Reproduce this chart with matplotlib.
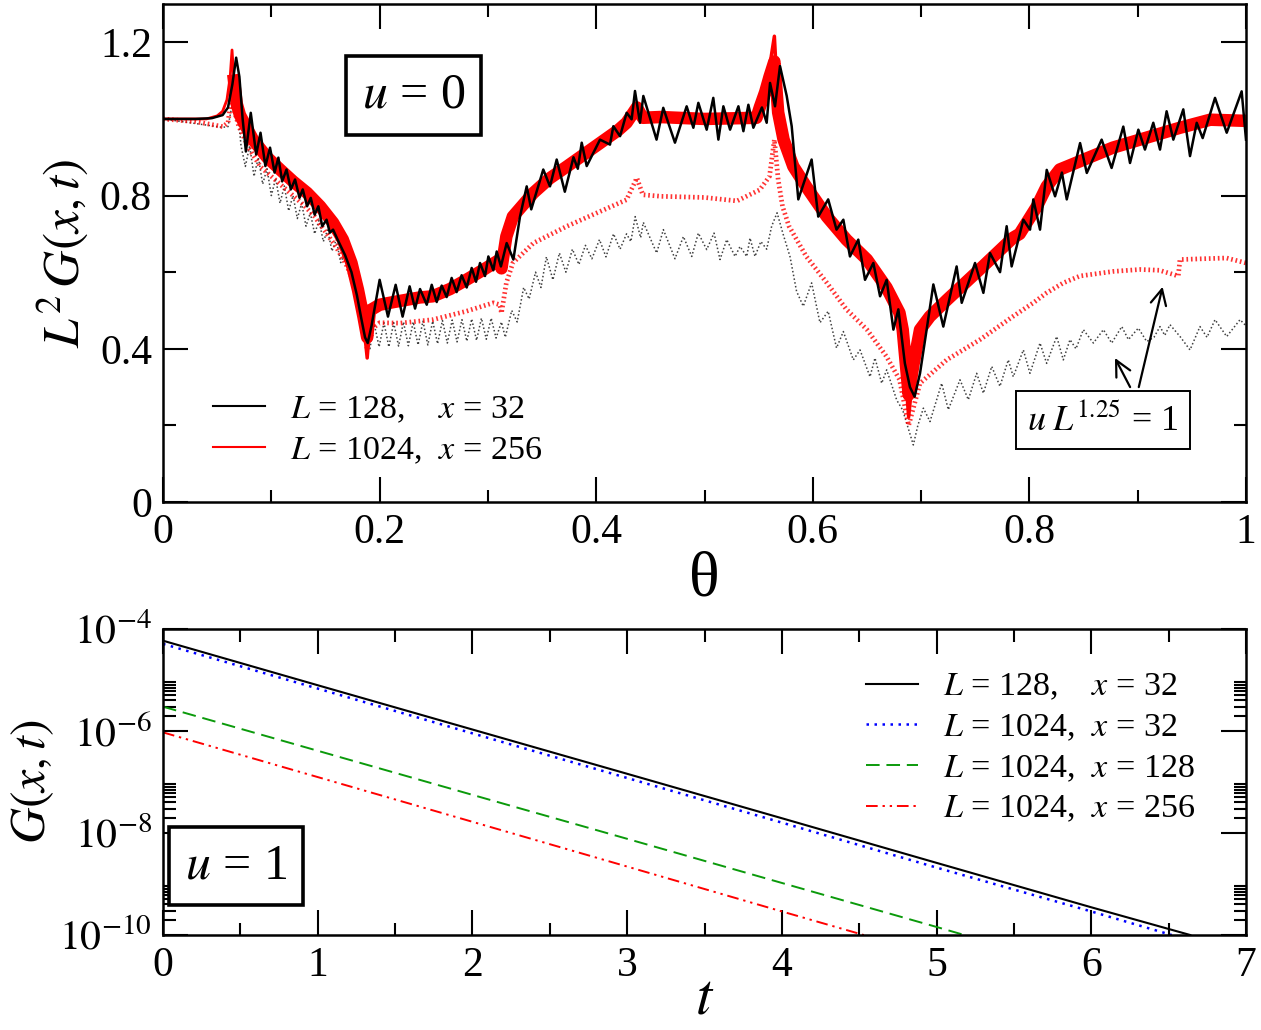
import matplotlib
matplotlib.use("Agg")
import matplotlib.pyplot as plt
from matplotlib.lines import Line2D
from matplotlib.ticker import MultipleLocator, FixedLocator, NullFormatter

plt.rcParams['font.family'] = 'serif'
plt.rcParams['font.serif'] = ['Liberation Serif', 'DejaVu Serif']
plt.rcParams['mathtext.fontset'] = 'stix'

# ---------------- top panel: u = 0 ----------------
# L = 1024, x = 256 (thin part before the first peak, then the noisy band)
red_pre_theta = [0.0, 0.04, 0.05, 0.055, 0.059, 0.062, 0.0637, 0.0655]
red_pre_g = [1.0, 1.0, 1.008, 1.02, 1.05, 1.11, 1.18, 1.10]

red_theta = [0.0655, 0.068, 0.071, 0.083, 0.096, 0.108, 0.120, 0.133, 0.145, 0.157,
             0.166, 0.174, 0.180, 0.185, 0.1885, 0.191, 0.200, 0.213, 0.237, 0.249,
             0.265, 0.280, 0.295, 0.311, 0.3125, 0.317, 0.323, 0.342, 0.357, 0.373,
             0.390, 0.404, 0.420, 0.428, 0.4375, 0.443, 0.459, 0.500, 0.548, 0.551,
             0.556, 0.560, 0.5645, 0.568, 0.573, 0.582, 0.594, 0.613, 0.631, 0.650,
             0.668, 0.680, 0.683, 0.6885, 0.693, 0.699, 0.708, 0.724, 0.754, 0.785,
             0.791, 0.807, 0.816, 0.828, 0.847, 0.877, 0.902, 0.939, 0.967, 1.0]
red_g = [1.10, 1.04, 1.01, 0.946, 0.90, 0.868, 0.837, 0.807, 0.772, 0.729,
         0.685, 0.624, 0.554, 0.484, 0.43, 0.50, 0.515, 0.522, 0.534, 0.537,
         0.556, 0.58, 0.605, 0.633, 0.61, 0.693, 0.745, 0.807, 0.845, 0.876,
         0.91, 0.938, 0.97, 0.99, 1.03, 1.003, 1.005, 1.0, 1.003, 1.03,
         1.07, 1.11, 1.15, 1.017, 0.946, 0.876, 0.823, 0.745, 0.685, 0.633,
         0.56, 0.494, 0.45, 0.28, 0.36, 0.45, 0.484, 0.528, 0.607, 0.69,
         0.70, 0.772, 0.824, 0.868, 0.89, 0.925, 0.946, 0.977, 0.998, 0.995]

# narrow spikes of the same curve at the cusps
spike_theta = [[0.184, 0.1885, 0.192], [0.557, 0.5645, 0.568], [0.682, 0.6885, 0.694]]
spike_g = [[0.50, 0.376, 0.50], [1.08, 1.216, 1.03], [0.46, 0.222, 0.38]]

# L = 128, x = 32
black_theta = [0.0, 0.03, 0.045, 0.055, 0.060, 0.064, 0.0675, 0.0705, 0.0735, 0.0765,
               0.081, 0.086, 0.090, 0.0945, 0.0988, 0.103, 0.1065, 0.110, 0.114, 0.118,
               0.1219, 0.126, 0.129, 0.133, 0.1364, 0.140, 0.1434, 0.147, 0.151, 0.154,
               0.157, 0.162, 0.168, 0.174, 0.179, 0.183, 0.1865, 0.189, 0.1925, 0.200,
               0.2077, 0.2148, 0.2212, 0.2277, 0.2327, 0.2373, 0.2435, 0.2481, 0.2527, 0.2573,
               0.2619, 0.2665, 0.2711, 0.2757, 0.2804, 0.2850, 0.2890, 0.2927, 0.2973, 0.3004,
               0.3050, 0.3081, 0.3120, 0.3173, 0.3235, 0.3296, 0.3358, 0.3400, 0.3511, 0.3573,
               0.3635, 0.3710, 0.3790, 0.3830, 0.3866, 0.3912, 0.4035, 0.4127, 0.4158, 0.4220,
               0.4281, 0.4327, 0.4358, 0.4404, 0.4435, 0.4557, 0.4619, 0.4727, 0.4835, 0.4897,
               0.4943, 0.5020, 0.5081, 0.5128, 0.5174, 0.5236, 0.5313, 0.5359, 0.5405, 0.5451,
               0.5530, 0.5574, 0.5605, 0.5651, 0.5697, 0.5759, 0.5805, 0.5866, 0.5989, 0.6050,
               0.6142, 0.6219, 0.6282, 0.6343, 0.6420, 0.6482, 0.6559, 0.6621, 0.6682, 0.6744,
               0.679, 0.685, 0.6897, 0.694, 0.699, 0.7051, 0.7113, 0.7205, 0.7328, 0.7375,
               0.7498, 0.7575, 0.7636, 0.7729, 0.779, 0.7836, 0.7944, 0.8006, 0.8036, 0.8098,
               0.8160, 0.8237, 0.8300, 0.8345, 0.8468, 0.8530, 0.8667, 0.8759, 0.8867, 0.8929,
               0.9006, 0.9067, 0.9144, 0.9206, 0.9267, 0.9329, 0.9421, 0.9483, 0.9545, 0.9600,
               0.9714, 0.9822, 0.9960, 1.0]
black_g = [1.0, 1.0, 1.002, 1.01, 1.03, 1.09, 1.16, 1.11, 1.0, 0.915,
           1.016, 0.907, 0.964, 0.877, 0.925, 0.86, 0.899, 0.837, 0.868, 0.816,
           0.842, 0.794, 0.816, 0.772, 0.794, 0.75, 0.772, 0.72, 0.737, 0.703,
           0.711, 0.68, 0.645, 0.60, 0.54, 0.48, 0.43, 0.415, 0.46, 0.58,
           0.484, 0.567, 0.484, 0.563, 0.505, 0.556, 0.515, 0.567, 0.522, 0.565,
           0.535, 0.585, 0.548, 0.592, 0.56, 0.611, 0.575, 0.624, 0.59, 0.641,
           0.605, 0.654, 0.615, 0.676, 0.633, 0.745, 0.824, 0.764, 0.868, 0.824,
           0.894, 0.81, 0.90, 0.87, 0.938, 0.877, 0.946, 0.933, 0.981, 0.955,
           1.016, 0.999, 1.073, 0.99, 1.06, 0.946, 1.029, 0.938, 1.033, 0.977,
           1.042, 0.972, 1.055, 0.946, 1.033, 0.972, 1.033, 0.968, 1.037, 0.977,
           1.03, 0.99, 1.094, 1.033, 1.138, 1.06, 0.981, 0.79, 0.894, 0.745,
           0.79, 0.711, 0.737, 0.641, 0.685, 0.58, 0.624, 0.537, 0.58, 0.45,
           0.503, 0.362, 0.30, 0.275, 0.336, 0.45, 0.568, 0.458, 0.615, 0.52,
           0.624, 0.546, 0.65, 0.60, 0.72, 0.615, 0.737, 0.711, 0.79, 0.711,
           0.867, 0.798, 0.86, 0.79, 0.937, 0.859, 0.946, 0.872, 0.98, 0.885,
           0.972, 0.92, 0.99, 0.92, 1.02, 0.946, 1.025, 0.903, 0.99, 0.95,
           1.055, 0.964, 1.072, 0.946]

# u L^1.25 = 1, L = 1024 (red dotted band)
red_dot_theta = [0.0, 0.03, 0.055, 0.060, 0.0635, 0.066, 0.070, 0.080, 0.090, 0.100,
                 0.110, 0.120, 0.130, 0.140, 0.150, 0.160, 0.170, 0.178, 0.184, 0.1885,
                 0.192, 0.200, 0.219, 0.249, 0.280, 0.305, 0.311, 0.3125, 0.317, 0.323,
                 0.342, 0.373, 0.404, 0.428, 0.4375, 0.443, 0.460, 0.500, 0.530, 0.551,
                 0.560, 0.5645, 0.568, 0.572, 0.578, 0.594, 0.613, 0.631, 0.650, 0.668,
                 0.680, 0.6885, 0.699, 0.7236, 0.7544, 0.7851, 0.8036, 0.8159, 0.8313, 0.8467,
                 0.8775, 0.9021, 0.920, 0.9375, 0.939, 0.960, 0.982, 1.0]
red_dot_g = [1.0, 0.993, 0.98, 0.99, 1.07, 1.02, 0.98, 0.92, 0.875, 0.85,
             0.825, 0.80, 0.775, 0.745, 0.705, 0.665, 0.615, 0.56, 0.48, 0.40,
             0.45, 0.468, 0.467, 0.476, 0.498, 0.52, 0.515, 0.493, 0.572, 0.624,
             0.676, 0.72, 0.759, 0.789, 0.846, 0.802, 0.798, 0.795, 0.786, 0.815,
             0.85, 0.946, 0.842, 0.772, 0.72, 0.641, 0.572, 0.503, 0.45, 0.38,
             0.32, 0.20, 0.31, 0.371, 0.424, 0.485, 0.52, 0.546, 0.572, 0.59,
             0.602, 0.607, 0.605, 0.59, 0.633, 0.635, 0.637, 0.624]

# u L^1.25 = 1, L = 128 (black dotted)
black_dot_theta = [0.0, 0.03, 0.055, 0.060, 0.064, 0.0665, 0.069, 0.072, 0.076, 0.080,
                   0.084, 0.088, 0.092, 0.096, 0.100, 0.104, 0.108, 0.112, 0.116, 0.120,
                   0.124, 0.128, 0.132, 0.136, 0.140, 0.144, 0.148, 0.152, 0.156, 0.160,
                   0.164, 0.168, 0.172, 0.176, 0.180, 0.184, 0.188, 0.191, 0.195, 0.1995,
                   0.204, 0.2085, 0.213, 0.2175, 0.222, 0.2265, 0.231, 0.2355, 0.240, 0.2445,
                   0.249, 0.2535, 0.258, 0.2625, 0.267, 0.2715, 0.276, 0.2805, 0.285, 0.2895,
                   0.294, 0.2985, 0.303, 0.3075, 0.3125, 0.316, 0.322, 0.327, 0.333, 0.338,
                   0.344, 0.349, 0.354, 0.360, 0.366, 0.372, 0.378, 0.384, 0.390, 0.396,
                   0.403, 0.409, 0.416, 0.422, 0.428, 0.432, 0.436, 0.441, 0.4435, 0.4558,
                   0.4620, 0.4727, 0.4805, 0.4882, 0.4943, 0.5020, 0.5088, 0.5143, 0.5205, 0.5282,
                   0.5328, 0.5390, 0.5420, 0.5466, 0.5520, 0.5574, 0.5620, 0.567, 0.5725, 0.5790,
                   0.5850, 0.5912, 0.5989, 0.6066, 0.6142, 0.6219, 0.6282, 0.6374, 0.6436, 0.6528,
                   0.6574, 0.6636, 0.6682, 0.6775, 0.683, 0.6928, 0.697, 0.7021, 0.7082, 0.7190,
                   0.7251, 0.7359, 0.7436, 0.7513, 0.7575, 0.7652, 0.7728, 0.7805, 0.7851, 0.7944,
                   0.8005, 0.8098, 0.8159, 0.8252, 0.8313, 0.8375, 0.8430, 0.8498, 0.8591, 0.8683,
                   0.8760, 0.8853, 0.8914, 0.9006, 0.9083, 0.9150, 0.9206, 0.9250, 0.9298, 0.9391,
                   0.9483, 0.9575, 0.9640, 0.9714, 0.9822, 0.9945, 1.0]
black_dot_g = [1.0, 0.988, 0.978, 0.98, 1.04, 1.09, 1.02, 0.93, 0.876, 0.93,
               0.85, 0.90, 0.83, 0.87, 0.80, 0.845, 0.78, 0.825, 0.76, 0.80,
               0.74, 0.78, 0.72, 0.755, 0.70, 0.735, 0.68, 0.71, 0.655, 0.685,
               0.625, 0.65, 0.59, 0.605, 0.54, 0.52, 0.44, 0.40, 0.465, 0.405,
               0.468, 0.405, 0.468, 0.407, 0.47, 0.408, 0.47, 0.41, 0.472, 0.41,
               0.472, 0.413, 0.474, 0.415, 0.475, 0.418, 0.476, 0.42, 0.478, 0.422,
               0.48, 0.425, 0.48, 0.428, 0.47, 0.43, 0.50, 0.47, 0.56, 0.53,
               0.60, 0.56, 0.64, 0.58, 0.65, 0.60, 0.66, 0.62, 0.67, 0.635,
               0.685, 0.64, 0.70, 0.66, 0.70, 0.68, 0.745, 0.69, 0.73, 0.65,
               0.711, 0.635, 0.693, 0.641, 0.702, 0.659, 0.702, 0.633, 0.685, 0.641,
               0.667, 0.641, 0.689, 0.641, 0.68, 0.66, 0.72, 0.755, 0.70, 0.64,
               0.55, 0.511, 0.572, 0.468, 0.498, 0.402, 0.445, 0.371, 0.397, 0.327,
               0.376, 0.31, 0.345, 0.266, 0.24, 0.149, 0.20, 0.245, 0.21, 0.31,
               0.241, 0.319, 0.267, 0.336, 0.284, 0.354, 0.302, 0.371, 0.327, 0.397,
               0.336, 0.415, 0.362, 0.432, 0.371, 0.424, 0.40, 0.45, 0.415, 0.45,
               0.415, 0.458, 0.424, 0.454, 0.419, 0.43, 0.458, 0.435, 0.463, 0.432,
               0.397, 0.458, 0.43, 0.476, 0.432, 0.476, 0.46]

# ---------------- bottom panel: u = 1 ----------------
t_128_32 = [0, 1, 2, 3, 4, 5, 6, 6.64]
g_128_32 = [5.9e-5, 7.9e-6, 1.07e-6, 1.45e-7, 1.95e-8, 2.6e-9, 3.5e-10, 1e-10]
t_1024_32 = [0, 1, 2, 3, 4, 5, 6, 6.52]
g_1024_32 = [5.1e-5, 6.8e-6, 9.0e-7, 1.2e-7, 1.6e-8, 2.1e-9, 2.9e-10, 1e-10]
t_1024_128 = [0, 1, 2, 3, 4, 5, 5.18]
g_1024_128 = [3.0e-6, 4.1e-7, 5.6e-8, 7.7e-9, 1.05e-9, 1.44e-10, 1e-10]
t_1024_256 = [0, 1, 2, 3, 4, 4.53]
g_1024_256 = [9.4e-7, 1.25e-7, 1.66e-8, 2.2e-9, 2.9e-10, 1e-10]

top_xticklabels = ["0", "0.2", "0.4", "0.6", "0.8", "1"]
top_yticklabels = ["0", "0.4", "0.8", "1.2"]

fig = plt.figure(figsize=(12.61, 10.30), dpi=100)
ax1 = fig.add_axes([0.1293, 0.5126, 0.8588, 0.4835])
ax2 = fig.add_axes([0.1293, 0.0922, 0.8588, 0.2971])

TICK = 30
LEG = 24.5
GREEN = '#0b9a0b'
dot_blue = (0, (1, 2.2))
dash_green = (0, (7, 3.5))
dashdot_red = (0, (6, 2.5, 1.2, 2.5, 1.2, 2.5))

# --- top ---
ax1.plot(black_dot_theta, black_dot_g, color='0.25', lw=1.1, ls=(0, (1, 1.5)))
ax1.plot(red_dot_theta, red_dot_g, color='red', lw=3.4, ls=(0, (0.35, 0.6)), alpha=0.8)
ax1.plot(red_pre_theta, red_pre_g, color='red', lw=2.0)
for st, sg in zip(spike_theta, spike_g):
    ax1.plot(st, sg, color='red', lw=2.5)
ax1.plot(red_theta, red_g, color='red', lw=9, solid_joinstyle='round')
ax1.plot(black_theta, black_g, color='black', lw=1.8)

ax1.set_xlim(0, 1)
ax1.set_ylim(0, 1.3)
ax1.xaxis.set_major_locator(FixedLocator([0, 0.2, 0.4, 0.6, 0.8, 1.0]))
ax1.set_xticklabels(top_xticklabels)
ax1.xaxis.set_minor_locator(MultipleLocator(0.1))
ax1.yaxis.set_major_locator(FixedLocator([0, 0.4, 0.8, 1.2]))
ax1.set_yticklabels(top_yticklabels)
ax1.yaxis.set_minor_locator(MultipleLocator(0.2))
ax1.set_xlabel("θ", fontsize=46, labelpad=0)
ax1.set_ylabel(r"$L^{2}\,G(x,t)$", fontsize=37, labelpad=6)

ax1.text(0.231, 1.061, r"$u$ = 0", fontsize=36, ha='center', va='center',
         bbox=dict(boxstyle='square,pad=0.32', fc='white', ec='black', lw=2.6))
ax1.text(0.868, 0.214, r"$u\;L^{1.25}$ = 1", fontsize=26, ha='center', va='center',
         bbox=dict(boxstyle='square,pad=0.32', fc='white', ec='black', lw=1.4))
ax1.annotate('', xy=(0.879, 0.376), xytext=(0.893, 0.30),
             arrowprops=dict(arrowstyle='->', lw=1.6, color='black', mutation_scale=28,
                             shrinkA=0, shrinkB=0))
ax1.annotate('', xy=(0.923, 0.562), xytext=(0.901, 0.30),
             arrowprops=dict(arrowstyle='->', lw=1.6, color='black', mutation_scale=28,
                             shrinkA=0, shrinkB=0))

top_handles = [Line2D([], [], color='black', lw=1.5), Line2D([], [], color='red', lw=1.5)]
top_labels = [r"$L$ = 128,    $x$ = 32", r"$L$ = 1024,  $x$ = 256"]
ax1.legend(top_handles, top_labels, loc='lower left', bbox_to_anchor=(0.034, 0.045),
           frameon=False, fontsize=LEG, handlelength=1.5, handletextpad=0.75,
           labelspacing=0.29, borderaxespad=0)

# --- bottom ---
ax2.plot(t_128_32, g_128_32, color='black', lw=1.5)
ax2.plot(t_1024_32, g_1024_32, color='blue', lw=1.8, ls=dot_blue)
ax2.plot(t_1024_128, g_1024_128, color=GREEN, lw=1.4, ls=dash_green)
ax2.plot(t_1024_256, g_1024_256, color='red', lw=1.4, ls=dashdot_red)

ax2.set_yscale('log')
ax2.set_xlim(0, 7)
ax2.set_ylim(1e-10, 1e-4)
ax2.xaxis.set_major_locator(MultipleLocator(1))
ax2.xaxis.set_minor_locator(MultipleLocator(0.5))
ax2.yaxis.set_major_locator(FixedLocator([1e-10, 1e-8, 1e-6, 1e-4]))
ax2.set_yticklabels([r"$10^{-10}$", r"$10^{-8}$", r"$10^{-6}$", r"$10^{-4}$"])
minors = [k * d for d in (1e-10, 1e-8, 1e-6) for k in range(2, 10)]
ax2.yaxis.set_minor_locator(FixedLocator(minors))
ax2.yaxis.set_minor_formatter(NullFormatter())
ax2.set_xlabel(r"$t$", fontsize=42, labelpad=-8)
ax2.set_ylabel(r"$G(x,t)$", fontsize=36, labelpad=2)

ax2.text(0.472, 2.25e-9, r"$u$ = 1", fontsize=36, ha='center', va='center',
         bbox=dict(boxstyle='square,pad=0.32', fc='white', ec='black', lw=2.6))

bot_handles = [Line2D([], [], color='black', lw=1.5),
               Line2D([], [], color='blue', lw=1.8, ls=dot_blue),
               Line2D([], [], color=GREEN, lw=1.4, ls=dash_green),
               Line2D([], [], color='red', lw=1.4, ls=dashdot_red)]
bot_labels = [r"$L$ = 128,    $x$ = 32", r"$L$ = 1024,  $x$ = 32",
              r"$L$ = 1024,  $x$ = 128", r"$L$ = 1024,  $x$ = 256"]
ax2.legend(bot_handles, bot_labels, loc='upper left', bbox_to_anchor=(0.637, 0.905),
           frameon=False, fontsize=LEG, handlelength=1.5, handletextpad=0.75,
           labelspacing=0.29, borderaxespad=0)

for ax in (ax1, ax2):
    for s in ax.spines.values():
        s.set_linewidth(1.8)
    ax.tick_params(which='both', direction='in', top=True, right=True, width=1.5)
    ax.tick_params(which='major', length=18, labelsize=TICK, pad=8)
    ax.tick_params(which='minor', length=9)

fig.savefig("out.png", dpi=100)
